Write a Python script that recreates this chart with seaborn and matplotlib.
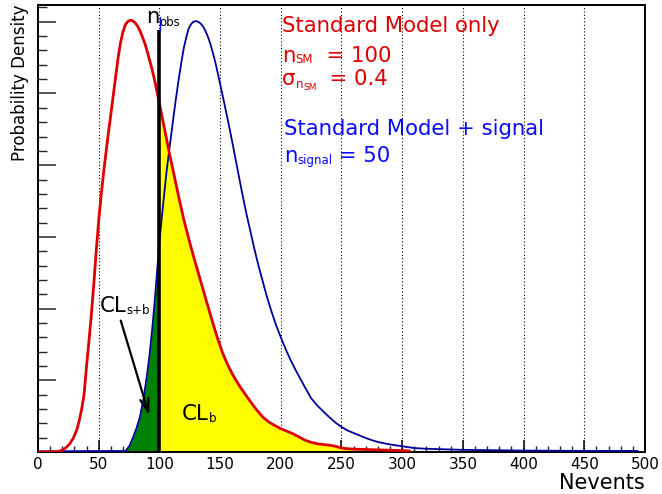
import matplotlib
matplotlib.use("Agg")
import matplotlib.pyplot as plt
from matplotlib.ticker import MultipleLocator, NullFormatter
import numpy as np
import pandas as pd
import seaborn as sns

# Standard Model only: number of events and probability density (units of 1e-3)
sm_events = [0, 10, 16, 20, 23, 26, 29, 32, 34, 36, 38, 40, 42, 44, 46, 48, 50,
             52, 54, 56, 58, 60, 62, 64, 66, 68, 70, 72, 74, 76, 78, 80, 82, 84,
             86, 88, 90, 92, 94, 96, 98, 100, 104, 108, 112, 116, 120, 124, 128,
             132, 136, 140, 144, 148, 152, 156, 160, 164, 168, 172, 176, 180,
             185, 190, 195, 200, 205, 210, 215, 220, 225, 230, 235, 240, 245,
             250, 255, 260, 270, 280, 290, 300, 306]
sm_density = [0, 0, 0.01, 0.05, 0.12, 0.22, 0.38, 0.62, 0.88, 1.2, 1.62, 2.4,
              3.1, 3.85, 4.7, 5.62, 6.45, 7.15, 7.78, 8.35, 8.9, 9.42, 9.95,
              10.47, 11.0, 11.42, 11.72, 11.92, 12.01, 12.04, 12.03, 11.97,
              11.88, 11.75, 11.58, 11.4, 11.17, 10.92, 10.67, 10.38, 10.05,
              9.73, 9.05, 8.37, 7.74, 7.1, 6.5, 5.97, 5.47, 5.0, 4.53, 4.06,
              3.6, 3.16, 2.77, 2.45, 2.18, 1.95, 1.74, 1.55, 1.36, 1.18, 0.98,
              0.84, 0.74, 0.65, 0.58, 0.51, 0.42, 0.33, 0.27, 0.23, 0.21, 0.19,
              0.16, 0.11, 0.09, 0.08, 0.07, 0.06, 0.05, 0.04, 0.03]

# Standard Model + signal
sig_events = [0, 72, 75, 78, 81, 84, 87, 90, 92, 94, 96, 98, 100, 102, 104, 106,
              108, 110, 112, 114, 116, 118, 120, 122, 124, 126, 128, 130, 132,
              134, 136, 138, 140, 142, 144, 146, 148, 150, 152, 154, 156, 158,
              160, 162, 164, 166, 168, 170, 172, 174, 176, 178, 180, 182, 184,
              186, 188, 190, 193, 196, 200, 204, 208, 212, 216, 220, 225, 230,
              235, 240, 245, 250, 255, 260, 265, 270, 275, 280, 290, 300, 310,
              320, 330, 350, 400, 450, 494]
sig_density = [0.02, 0.03, 0.15, 0.38, 0.65, 0.98, 1.5, 2.2, 2.75, 3.4, 4.15,
               5.0, 5.85, 6.55, 7.2, 7.85, 8.4, 8.92, 9.45, 9.95, 10.42, 10.85,
               11.25, 11.55, 11.8, 11.93, 12.0, 12.02, 12.0, 11.95, 11.87,
               11.74, 11.58, 11.38, 11.14, 10.88, 10.58, 10.27, 9.96, 9.64,
               9.32, 8.99, 8.65, 8.3, 7.95, 7.6, 7.25, 6.92, 6.6, 6.3, 6.0, 5.7,
               5.42, 5.15, 4.9, 4.65, 4.4, 4.17, 3.85, 3.55, 3.2, 2.87, 2.57,
               2.3, 2.05, 1.8, 1.5, 1.3, 1.13, 0.97, 0.82, 0.7, 0.6, 0.53, 0.46,
               0.39, 0.33, 0.28, 0.21, 0.16, 0.11, 0.09, 0.08, 0.06, 0.04, 0.03,
               0.03]

n_obs = 100
n_sm = 100
sigma_sm = 0.4
n_signal = 50

x_ticks = list(range(0, 501, 50))

sm = pd.DataFrame({"events": sm_events, "density": np.array(sm_density) * 1e-3})
sig = pd.DataFrame({"events": sig_events, "density": np.array(sig_density) * 1e-3})

sns.set_theme(style="white")
plt.rcParams["font.family"] = ["DejaVu Sans"]

RED = "#dd0000"
NAVY = "#00009a"
BLUE = "#0a0aff"
MAIN = 15.3
SUB = 8.5

fig = plt.figure(figsize=(6.62, 4.94), dpi=100)
ax = fig.add_axes([0.0574, 0.085, 0.9169, 0.905])

# shaded tails: CL_b under the SM curve above n_obs, CL_s+b under the signal curve below it
tail_b = sm[sm["events"] >= n_obs]
ax.fill_between(tail_b["events"], 0, tail_b["density"], color="#ffff00", lw=0, zorder=1)
tail_sb = sig[sig["events"] <= n_obs]
ax.fill_between(tail_sb["events"], 0, tail_sb["density"], color="#008000", lw=0, zorder=1)

sns.lineplot(data=sig, x="events", y="density", ax=ax, color=NAVY, lw=1.3,
             sort=False, estimator=None, zorder=3)
sns.lineplot(data=sm, x="events", y="density", ax=ax, color=RED, lw=2.0,
             sort=False, estimator=None, zorder=4)

# observed number of events
ax.plot([n_obs, n_obs], [0, 0.01177], color="black", lw=2.6, zorder=5,
        solid_capstyle="butt")
ax.plot([n_obs + 0.5, n_obs + 0.5], [0.01177, 0.01213], color=BLUE, lw=1.0, zorder=5)

ax.set_xlim(0, 500)
ax.set_ylim(0, 0.01247)
ax.set_xticks(x_ticks)
ax.xaxis.set_minor_locator(MultipleLocator(10))
ax.yaxis.set_major_locator(MultipleLocator(0.002))
ax.yaxis.set_minor_locator(MultipleLocator(0.0004))
ax.yaxis.set_major_formatter(NullFormatter())

for gx in x_ticks[1:-1]:
    ax.axvline(gx, color="black", lw=0.8, ls=(0, (1, 2)), zorder=0.5)

ax.tick_params(axis="x", which="major", direction="in", length=8.6, width=1.1,
               pad=3.5, labelsize=11, colors="black", bottom=True, top=False)
ax.tick_params(axis="x", which="minor", direction="in", length=4.3, width=1.0,
               bottom=True, top=False)
ax.tick_params(axis="y", which="major", direction="in", length=13, width=1.1,
               left=True, right=False)
ax.tick_params(axis="y", which="minor", direction="in", length=6.5, width=1.0,
               left=True, right=False)
for sp in ax.spines.values():
    sp.set_color("black")
    sp.set_linewidth(1.4)

ax.set_xlabel("Nevents", fontsize=15, loc="right", labelpad=1, color="black")
ax.set_ylabel("Probability Density", fontsize=12, loc="top", labelpad=3, color="black")


def rich_label(x, y, parts, color):
    """Draw text pieces one after another; each piece is (text, size, baseline shift in pt)."""
    prev = None
    for s, size, dy in parts:
        if prev is None:
            prev = ax.text(x, y, s, fontsize=size, color=color, va="baseline",
                           ha="left", zorder=6)
        else:
            prev = ax.annotate(s, xy=(1, y), xycoords=(prev, "data"),
                               xytext=(0, dy), textcoords="offset points",
                               fontsize=size, color=color, va="baseline",
                               ha="left", zorder=6)
    return prev


rich_label(89, 0.01196, [("n", MAIN, 0), ("obs", SUB, -2)], "black")

rich_label(201, 0.01172, [("Standard Model only", MAIN, 0)], RED)
rich_label(201, 0.01088, [("n", MAIN, 0), ("SM", SUB, -0.5),
                          ("  = %d" % n_sm, MAIN, 0)], RED)
rich_label(201, 0.01024, [("σ", MAIN, 0), ("n", SUB, -2), ("SM", 6.5, -3.5),
                          ("  = %.1f" % sigma_sm, MAIN, 0)], RED)
rich_label(202.6, 0.00884, [("Standard Model + signal", MAIN, 0)], BLUE)
rich_label(202.6, 0.00810, [("n", MAIN, 0), ("signal", SUB, -2),
                            (" = %d" % n_signal, MAIN, 0)], BLUE)

rich_label(51, 0.00391, [("CL", MAIN, 0), ("s+b", SUB, -1.5)], "black")
ax.annotate("", xy=(92.3, 0.00095), xytext=(67.5, 0.00374),
            arrowprops=dict(arrowstyle="->,head_length=0.8,head_width=0.25",
                            color="black", lw=1.6), zorder=6)
rich_label(118.6, 0.00089, [("CL", MAIN, 0), ("b", SUB, -1.5)], "black")

fig.savefig("out.png", dpi=100)
